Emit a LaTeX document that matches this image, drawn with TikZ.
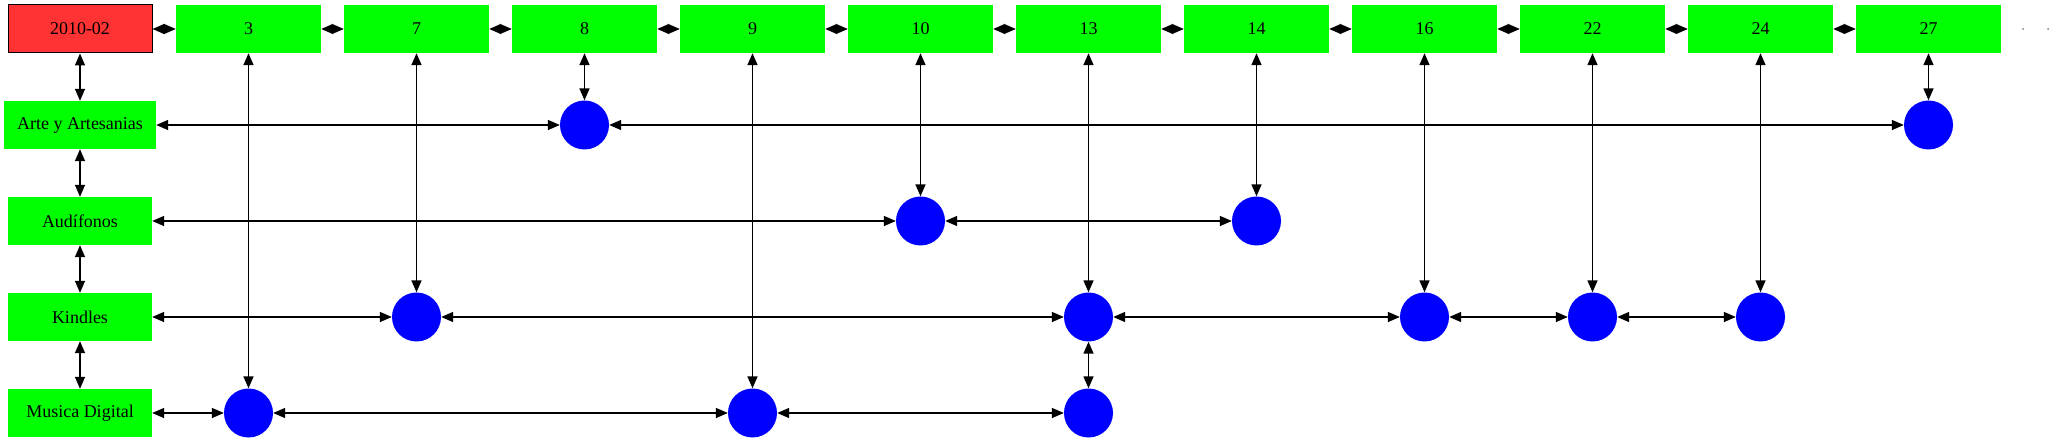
\documentclass[tikz,border=0pt]{standalone}
\usepackage{fontspec}
\setmainfont{Liberation Serif}
\usetikzlibrary{arrows.meta}
\definecolor{gvgreen}{HTML}{00FF00}
\definecolor{gvred}{HTML}{FF3333}
\definecolor{gvblue}{HTML}{0000FF}
\begin{document}
\begin{tikzpicture}[x=1pt,y=-1pt,
  hbox/.style={rectangle, fill=gvgreen, minimum width=145pt, minimum height=48pt, inner sep=0pt, font=\fontsize{18}{20}\selectfont},
  datebox/.style={hbox, fill=gvred, draw=black, line width=1pt, minimum width=144pt},
  catbox/.style={hbox, minimum width=144pt},
  dot/.style={circle, fill=gvblue, minimum size=49pt, inner sep=0pt},
  link/.style={{Triangle[length=12pt,width=10pt]}-{Triangle[length=12pt,width=10pt]}, line width=1.5pt, black}
]
\useasboundingbox (0,0) rectangle (2053,443);
% top row
\node[datebox] (d) at (80,29) {2010-02};
\node[hbox] (t3) at (248.5,29) {3};
\node[hbox] (t7) at (416.5,29) {7};
\node[hbox] (t8) at (584.5,29) {8};
\node[hbox] (t9) at (752.5,29) {9};
\node[hbox] (t10) at (920.5,29) {10};
\node[hbox] (t13) at (1088.5,29) {13};
\node[hbox] (t14) at (1256.5,29) {14};
\node[hbox] (t16) at (1424.5,29) {16};
\node[hbox] (t22) at (1592.5,29) {22};
\node[hbox] (t24) at (1760.5,29) {24};
\node[hbox] (t27) at (1928.5,29) {27};
% categories
\node[catbox, minimum width=152pt] (arte) at (80,125) {Arte y Artesanias};
\node[catbox] (aud) at (80,221) {Audífonos};
\node[catbox] (kin) at (80,317) {Kindles};
\node[catbox] (mus) at (80,413) {Musica Digital};
% circles
\node[dot] (c8a) at (584.5,125) {};
\node[dot] (c27a) at (1928.5,125) {};
\node[dot] (c10b) at (920.5,221) {};
\node[dot] (c14b) at (1256.5,221) {};
\node[dot] (c7k) at (416.5,317) {};
\node[dot] (c13k) at (1088.5,317) {};
\node[dot] (c16k) at (1424.5,317) {};
\node[dot] (c22k) at (1592.5,317) {};
\node[dot] (c24k) at (1760.5,317) {};
\node[dot] (c3m) at (248.5,413) {};
\node[dot] (c9m) at (752.5,413) {};
\node[dot] (c13m) at (1088.5,413) {};
% vertical columns (drawn first)
\draw[link] (t3) -- (c3m);
\draw[link] (t7) -- (c7k);
\draw[link] (t8) -- (c8a);
\draw[link] (t9) -- (c9m);
\draw[link] (t10) -- (c10b);
\draw[link] (t13) -- (c13k);
\draw[link] (c13k) -- (c13m);
\draw[link] (t14) -- (c14b);
\draw[link] (t16) -- (c16k);
\draw[link] (t22) -- (c22k);
\draw[link] (t24) -- (c24k);
\draw[link] (t27) -- (c27a);
% left column
\draw[link] (d) -- (arte);
\draw[link] (arte) -- (aud);
\draw[link] (aud) -- (kin);
\draw[link] (kin) -- (mus);
% top chain
\draw[link] (d) -- (t3);
\draw[link] (t3) -- (t7);
\draw[link] (t7) -- (t8);
\draw[link] (t8) -- (t9);
\draw[link] (t9) -- (t10);
\draw[link] (t10) -- (t13);
\draw[link] (t13) -- (t14);
\draw[link] (t14) -- (t16);
\draw[link] (t16) -- (t22);
\draw[link] (t22) -- (t24);
\draw[link] (t24) -- (t27);
% rows
\draw[link] (arte) -- (c8a);
\draw[link] (c8a) -- (c27a);
\draw[link] (aud) -- (c10b);
\draw[link] (c10b) -- (c14b);
\draw[link] (kin) -- (c7k);
\draw[link] (c7k) -- (c13k);
\draw[link] (c13k) -- (c16k);
\draw[link] (c16k) -- (c22k);
\draw[link] (c22k) -- (c24k);
\draw[link] (mus) -- (c3m);
\draw[link] (c3m) -- (c9m);
\draw[link] (c9m) -- (c13m);
% trailing dots
\fill[gray] (2023,29) circle (1pt);
\fill[gray] (2048,29) circle (1pt);
\end{tikzpicture}
\end{document}
